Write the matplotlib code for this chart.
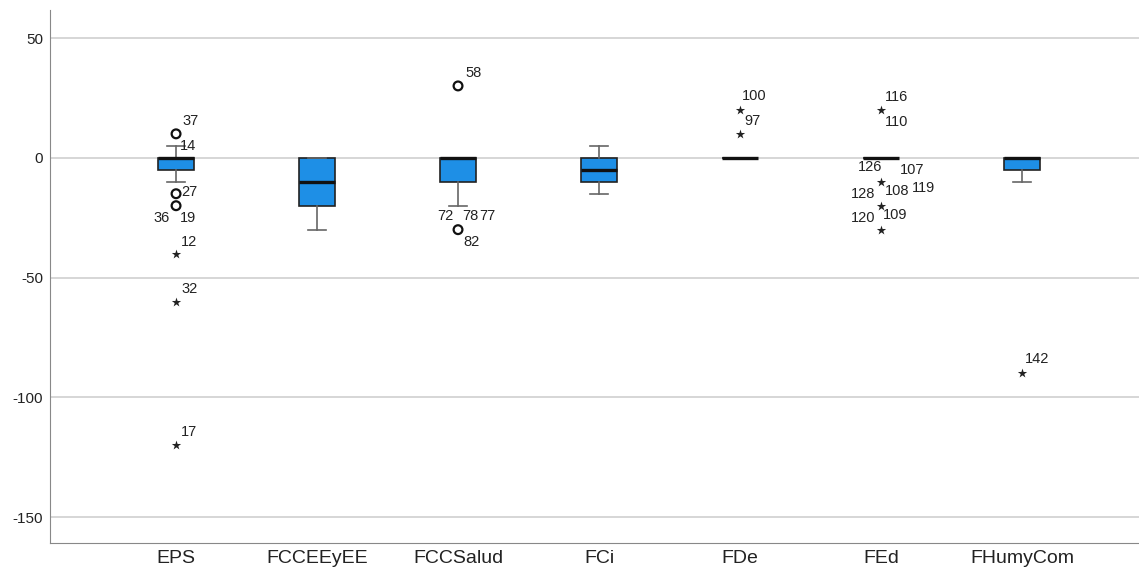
import matplotlib.pyplot as plt

plt.rcParams['font.family'] = ['Liberation Sans', 'DejaVu Sans']
plt.rcParams['axes.unicode_minus'] = False

groups = ['EPS', 'FCCEEyEE', 'FCCSalud', 'FCi', 'FDe', 'FEd', 'FHumyCom']
q1 = [-5, -20, -10, -10, 0, 0, -5]
med = [0, -10, 0, -5, 0, 0, 0]
q3 = [0, 0, 0, 0, 0, 0, 0]
whislo = [-10, -30, -20, -15, 0, 0, -10]
whishi = [5, 0, 0, 5, 0, 0, 0]

# outliers (circles) and extremes (stars): (group index, value)
circles = [(0, 10), (0, -15), (0, -20), (2, 30), (2, -30)]
stars = [(0, -40), (0, -60), (0, -120), (4, 20), (4, 10),
         (5, 20), (5, -10), (5, -20), (5, -30), (6, -90)]

# case labels: (group index, value, text)
case_labels = [
    (0, 10, '37'), (0, 5, '14'), (0, -15, '27'), (0, -20, '36'), (0, -20, '19'),
    (0, -40, '12'), (0, -60, '32'), (0, -120, '17'),
    (2, 30, '58'), (2, -30, '72'), (2, -30, '78'), (2, -30, '77'), (2, -30, '82'),
    (4, 20, '100'), (4, 10, '97'),
    (5, 20, '116'), (5, 20, '110'), (5, -10, '126'), (5, -10, '107'),
    (5, -10, '128'), (5, -10, '108'), (5, -10, '119'), (5, -20, '120'),
    (5, -20, '109'),
    (6, -90, '142'),
]
# label placement in pixels: (dx, dy, ha)
label_offsets = [
    (6, 13, 'left'), (4, 0, 'left'), (5, 2, 'left'), (-6, -12, 'right'), (4, -12, 'left'),
    (5, 12, 'left'), (5, 13, 'left'), (5, 13, 'left'),
    (7, 13, 'left'), (-5, 14, 'right'), (4, 14, 'left'), (21, 14, 'left'), (5, -12, 'left'),
    (2, 14, 'left'), (4, 13, 'left'),
    (4, 13, 'left'), (4, -12, 'left'), (1, 15, 'right'), (19, 12, 'left'),
    (-6, -12, 'right'), (4, -9, 'left'), (31, -6, 'left'), (-6, -12, 'right'),
    (2, -9, 'left'),
    (3, 14, 'left'),
]

stats = []
for i, g in enumerate(groups):
    stats.append({'label': g, 'q1': q1[i], 'med': med[i], 'q3': q3[i],
                  'whislo': whislo[i], 'whishi': whishi[i], 'fliers': []})

fig = plt.figure(figsize=(11.39, 5.74), dpi=100)
ax = fig.add_axes([0.0439, 0.054, 0.9561, 0.9286])

pos = list(range(len(groups)))
ax.bxp(stats, positions=pos, widths=0.255, capwidths=[0.13] * len(groups),
       patch_artist=True, showfliers=False,
       boxprops=dict(facecolor='#1e8fe6', edgecolor='#222222', linewidth=1.2),
       medianprops=dict(color='#111111', linewidth=2.4),
       whiskerprops=dict(color='#666666', linewidth=1.2),
       capprops=dict(color='#666666', linewidth=1.2), zorder=3)

ax.scatter([c[0] for c in circles], [c[1] for c in circles], s=40,
           facecolors='none', edgecolors='#111111', linewidths=1.6, zorder=4)
ax.scatter([s[0] for s in stars], [s[1] for s in stars], s=50, marker='*',
           color='#222222', linewidths=0, zorder=4)

for (gi, v, t), (dx, dy, ha) in zip(case_labels, label_offsets):
    ax.annotate(t, (gi, v), xytext=(dx * 0.72, dy * 0.72), textcoords='offset points',
                ha=ha, va='center', fontsize=10.5, color='#222222')

ax.set_xlim(-0.894, 6.83)
ax.set_ylim(-160.8, 61.7)
ax.set_yticks([50, 0, -50, -100, -150])
ax.set_xticks(pos)
ax.set_xticklabels(groups, fontsize=14, color='#222222')
ax.tick_params(axis='y', labelsize=11, colors='#222222', length=0, pad=5)
ax.tick_params(axis='x', length=0, pad=5)
ax.yaxis.grid(True, color='#cfcfcf', linewidth=1.2, zorder=0)
ax.set_axisbelow(True)
for side in ['top', 'right']:
    ax.spines[side].set_visible(False)
ax.spines['left'].set_color('#888888')
ax.spines['bottom'].set_color('#888888')

fig.savefig('out.png', dpi=100)
